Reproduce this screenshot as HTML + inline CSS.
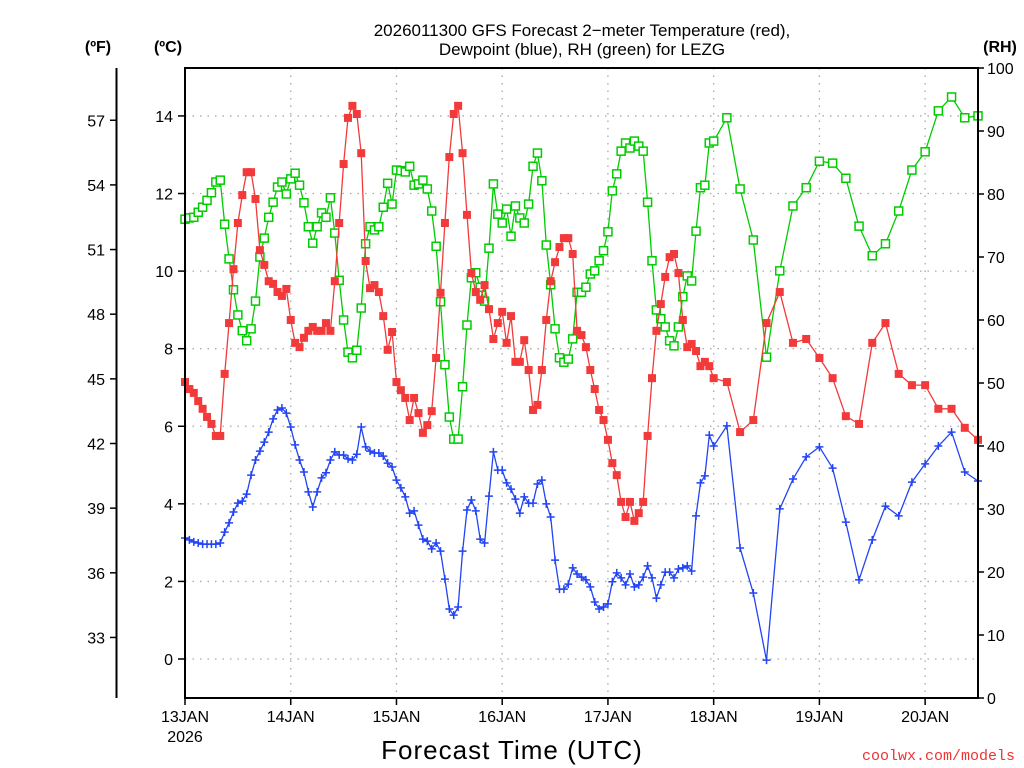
<!DOCTYPE html>
<html><head><meta charset="utf-8"><style>
html,body{margin:0;padding:0;background:#fff;}
svg{display:block;font-family:"Liberation Sans",sans-serif;}
</style></head><body>
<svg id="chart" width="1024" height="768" viewBox="0 0 1024 768" xmlns="http://www.w3.org/2000/svg">
<rect width="1024" height="768" fill="#fff"/>
<g id="grid"></g>
<g id="series"></g>
<rect x="185" y="68" width="793" height="630" fill="none" stroke="#000" stroke-width="2"/>
<line x1="116.5" y1="68" x2="116.5" y2="698" stroke="#000" stroke-width="2"/>
<g id="axes"></g>
<text x="582" y="36" font-size="17" text-anchor="middle">2026011300 GFS Forecast 2−meter Temperature (red),</text>
<text x="582" y="55" font-size="17" text-anchor="middle">Dewpoint (blue), RH (green) for LEZG</text>
<text x="98" y="52" font-size="16" font-weight="bold" text-anchor="middle">(ºF)</text>
<text x="168" y="52" font-size="16" font-weight="bold" text-anchor="middle">(ºC)</text>
<text x="1000" y="52" font-size="16" font-weight="bold" text-anchor="middle">(RH)</text>
<text x="512" y="759" font-size="26" text-anchor="middle" letter-spacing="1">Forecast Time (UTC)</text>
<text x="1015" y="760" font-size="15" fill="#e33" text-anchor="end" font-family="Liberation Mono, monospace">coolwx.com/models</text>
</svg>
<script>
const hours=[0,1,2,3,4,5,6,7,8,9,10,11,12,13,14,15,16,17,18,19,20,21,22,23,24,25,26,27,28,29,30,31,32,33,34,35,36,37,38,39,40,41,42,43,44,45,46,47,48,49,50,51,52,53,54,55,56,57,58,59,60,61,62,63,64,65,66,67,68,69,70,71,72,73,74,75,76,77,78,79,80,81,82,83,84,85,86,87,88,89,90,91,92,93,94,95,96,97,98,99,100,101,102,103,104,105,106,107,108,109,110,111,112,113,114,115,116,117,118,119,120,123,126,129,132,135,138,141,144,147,150,153,156,159,162,165,168,171,174,177,180];
const tempC=[7.14,6.96,6.86,6.65,6.45,6.24,6.06,5.75,5.75,7.35,8.66,10.05,11.24,11.96,12.55,12.55,11.86,10.54,10.16,9.74,9.67,9.46,9.36,9.54,8.74,8.15,8.04,8.28,8.46,8.56,8.46,8.46,8.66,8.46,9.74,11.24,12.76,13.95,14.26,14.05,13.04,10.26,9.56,9.64,9.46,8.84,7.97,8.43,7.14,6.93,6.73,6.16,6.73,6.34,5.83,6.03,6.39,7.76,9.44,11.24,12.94,14.05,14.26,13.04,11.45,9.95,9.46,9.26,9.64,9.02,8.25,8.66,8.95,8.15,8.84,7.66,7.66,8.22,7.45,6.42,6.55,7.45,8.74,9.74,10.23,10.62,10.85,10.85,10.44,8.46,8.35,8.04,7.45,6.96,6.42,6.16,5.65,5.05,4.74,4.05,3.66,4.05,3.56,3.76,4.05,5.75,7.24,8.46,9.15,9.85,10.36,10.44,9.95,8.74,8.04,8.12,7.94,7.55,7.66,7.55,7.24,7.14,5.85,6.16,8.66,9.46,8.15,8.25,7.76,7.24,6.26,6.06,8.15,8.66,7.35,7.06,7.06,6.45,6.45,5.96,5.65];
const dewC=[3.12,3.07,3.02,2.99,2.96,2.96,2.96,2.96,2.99,3.27,3.51,3.79,4.02,4.07,4.25,4.74,5.13,5.36,5.59,5.85,6.19,6.42,6.47,6.34,5.98,5.52,5.13,4.82,4.31,3.92,4.31,4.67,4.80,5.13,5.34,5.26,5.26,5.16,5.13,5.28,5.98,5.47,5.36,5.31,5.31,5.23,5.05,4.95,4.61,4.41,4.18,3.76,3.82,3.45,3.09,3.04,2.84,2.99,2.78,2.06,1.29,1.13,1.34,2.78,3.84,4.10,3.82,3.09,2.99,4.20,5.34,4.87,4.87,4.54,4.38,4.12,3.76,4.18,4.02,4.02,4.51,4.61,4.00,3.66,2.55,1.80,1.80,1.93,2.35,2.19,2.11,2.04,1.86,1.47,1.29,1.34,1.42,1.99,2.22,2.09,1.91,2.19,1.86,1.91,2.11,2.40,2.09,1.57,1.91,2.24,2.24,2.09,2.32,2.35,2.40,2.27,3.69,4.54,4.72,5.77,5.49,6.01,2.86,1.70,-0.03,3.87,4.64,5.21,5.47,4.92,3.53,2.04,3.07,3.94,3.69,4.56,5.03,5.49,5.85,4.82,4.59];
const rhPct=[76.0,76.2,76.3,77.1,77.9,79.0,80.2,81.9,82.2,75.2,69.7,64.8,60.8,58.3,56.7,58.6,63.0,70.0,73.0,76.3,78.7,81.1,81.9,80.0,82.4,83.3,81.4,78.6,74.8,72.2,74.8,77.0,76.3,79.4,73.8,66.3,60.0,54.9,54.0,55.2,61.9,72.1,74.8,74.3,74.8,77.9,81.7,78.4,83.8,83.7,83.5,84.4,81.4,81.6,82.2,80.8,77.3,71.7,62.9,52.9,44.6,41.1,41.1,49.4,59.2,66.7,67.5,65.2,63.0,71.4,81.6,76.8,75.4,77.6,73.3,78.1,76.2,75.4,78.4,84.4,86.5,82.1,71.9,65.6,58.6,54.0,53.3,53.8,57.0,64.4,64.4,65.2,67.3,67.8,69.4,71.0,74.0,80.5,83.2,86.8,88.1,87.3,88.4,87.6,86.8,78.7,69.4,61.6,60.2,58.9,56.7,55.9,58.9,63.7,67.0,66.2,74.1,81.0,81.4,88.1,88.4,92.1,80.8,72.7,54.1,67.8,78.1,81.0,85.2,84.9,82.5,74.9,70.2,72.1,77.3,83.8,86.7,93.2,95.4,92.1,92.4];
const dayLabels=["13JAN","14JAN","15JAN","16JAN","17JAN","18JAN","19JAN","20JAN"];
const cTicks=[0,2,4,6,8,10,12,14];
const fTicks=[33,36,39,42,45,48,51,54,57];
const rhTicks=[0,10,20,30,40,50,60,70,80,90,100];

const NS="http://www.w3.org/2000/svg";
const X0=185,X1=978,Y0=68,Y1=698;
const xH=h=>X0+(X1-X0)*h/180;
const yC=c=>659-c*38.79;
const yF=f=>yC((f-32)*5/9);
const yRH=r=>Y1-(Y1-Y0)*r/100;
function mk(tag,attrs,parent){const e=document.createElementNS(NS,tag);for(const k in attrs)e.setAttribute(k,attrs[k]);parent.appendChild(e);return e;}
const grid=document.getElementById('grid'),axes=document.getElementById('axes'),ser=document.getElementById('series');
cTicks.forEach(c=>{
  const y=yC(c);
  const g=mk('line',{x1:X0,x2:X1,y1:y,y2:y,stroke:'#aaa','stroke-width':1.3,'stroke-dasharray':'1.5 6'},grid);
  
  
  mk('line',{x1:X0-7,x2:X0,y1:y,y2:y,stroke:'#000','stroke-width':1.5},axes);
  const t=mk('text',{x:X0-12,y:y+6,'font-size':16,'text-anchor':'end'},axes);
  t.textContent=c;
  
  
});
fTicks.forEach(f=>{
  const y=yF(f);
  mk('line',{x1:110,x2:117,y1:y,y2:y,stroke:'#000','stroke-width':1.5},axes);
  const t=mk('text',{x:105,y:y+6,'font-size':16,'text-anchor':'end'},axes);
  t.textContent=f;
  
  
});
rhTicks.forEach(r=>{
  const y=yRH(r);
  mk('line',{x1:X1,x2:X1+6,y1:y,y2:y,stroke:'#000','stroke-width':1.5},axes);
  const t=mk('text',{x:X1+9,y:y+6,'font-size':16,'text-anchor':'start'},axes);
  t.textContent=r;
  
  
});
dayLabels.forEach((d,i)=>{
  const x=xH(i*24);
  if(i>0){const g=mk('line',{x1:x,x2:x,y1:Y0,y2:Y1,stroke:'#aaa','stroke-width':1.3,'stroke-dasharray':'1.5 6'},grid);
  
  }
  mk('line',{x1:x,x2:x,y1:Y1,y2:Y1+7,stroke:'#000','stroke-width':1.5},axes);
  const t=mk('text',{x:x,y:722,'font-size':16,'text-anchor':'middle'},axes);
  t.textContent=d;
  
  
});
const yr=mk('text',{x:xH(0),y:742,'font-size':16,'text-anchor':'middle'},axes);yr.textContent='2026';



function drawSeries(vals,yfn,color,marker,name){
  const g=mk('g',{},ser);
  
  
  const pts=vals.map((v,i)=>xH(hours[i]).toFixed(1)+','+yfn(v).toFixed(1)).join(' ');
  mk('polyline',{points:pts,fill:'none',stroke:color,'stroke-width':1.3},g);
  vals.forEach((v,i)=>{
    const x=xH(hours[i]),y=yfn(v);
    let m;
    if(marker==='fill'){m=mk('rect',{x:x-4,y:y-4,width:8,height:8,fill:color},g);}
    else if(marker==='open'){m=mk('rect',{x:x-4,y:y-4,width:8,height:8,fill:'#fff',stroke:color,'stroke-width':1.5},g);}
    else {m=mk('path',{d:`M${x-4},${y}H${x+4}M${x},${y-4}V${y+4}`,stroke:color,'stroke-width':1.5},g);}
    
    
  });
}
drawSeries(rhPct,yRH,'#00cc00','open','rh-series');
drawSeries(tempC,yC,'#f23a3a','fill','temperature-series');
drawSeries(dewC,yC,'#2244f4','plus','dewpoint-series');
</script>
</body></html>
